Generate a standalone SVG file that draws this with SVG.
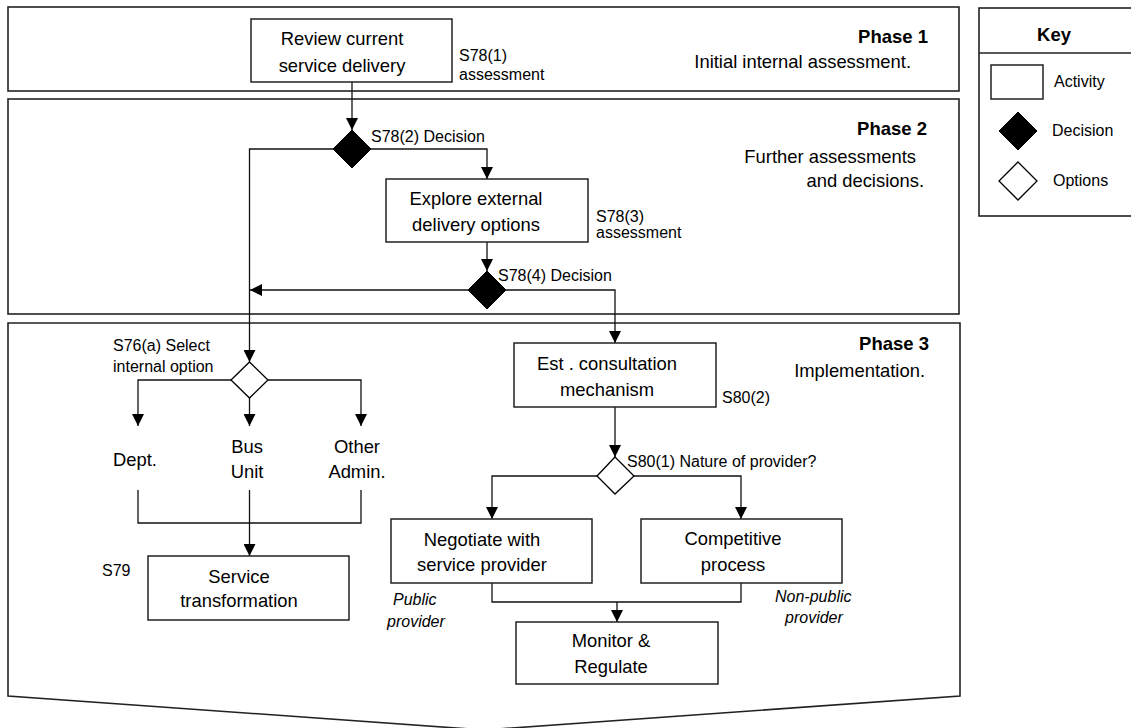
<svg xmlns="http://www.w3.org/2000/svg" width="1131" height="728" viewBox="0 0 1131 728">
<style>
text{font-family:"Liberation Sans",Arial,sans-serif;fill:#000}
.box{fill:#fff;stroke:#222;stroke-width:1.5}
.frame{fill:none;stroke:#222;stroke-width:1.6}
.big{font-size:18.4px}
.lbl{font-size:16px}
.it{font-size:16px;font-style:italic}
.b{font-weight:bold;font-size:18.5px}
.c{text-anchor:middle}
.r{text-anchor:end}
.con{fill:none;stroke:#111;stroke-width:1.3}
.arr{marker-end:url(#ah)}
.dec{fill:#000;stroke:#000;stroke-width:1}
.opt{fill:#fff;stroke:#000;stroke-width:1.3}
</style>
<defs>
<marker id="ah" viewBox="0 0 12 12" refX="12" refY="6" markerWidth="12" markerHeight="12" markerUnits="userSpaceOnUse" orient="auto">
<path d="M0,0 L12,6 L0,12 Z" fill="#000"/>
</marker>
</defs>
<rect width="1131" height="728" fill="#fff"/>

<g id="phase1">
<rect class="frame" x="8" y="7" width="951" height="84"/>
<text class="b r" x="928" y="43">Phase 1</text>
<text class="big r" x="911" y="68">Initial internal assessment.</text>
</g>
<g id="phase2">
<rect class="frame" x="8" y="99" width="951" height="215"/>
<text class="b r" x="927" y="135">Phase 2</text>
<text class="big r" x="916" y="163">Further assessments</text>
<text class="big r" x="924" y="187">and decisions.</text>
</g>
<g id="phase3">
<polygon class="frame" points="8,323 960,323 960,696 484,730 8,696"/>
<text class="b r" x="929" y="350">Phase 3</text>
<text class="big r" x="925" y="377">Implementation.</text>
</g>

<g id="key">
<rect class="frame" x="979" y="8" width="160" height="208"/>
<line x1="979" y1="53" x2="1131" y2="53" stroke="#222" stroke-width="1.5"/>
<text class="b c" x="1054" y="41">Key</text>
<rect class="box" x="991" y="65" width="52" height="34"/>
<text class="lbl" x="1054" y="87">Activity</text>
<polygon class="dec" points="1018,112 1037,131 1018,150 999,131"/>
<text class="lbl" x="1052" y="136">Decision</text>
<polygon class="opt" points="1018,162 1037,181 1018,200 999,181"/>
<text class="lbl" x="1053" y="186">Options</text>
</g>

<g id="connectors">
<path class="con arr" d="M352,82 V130"/>
<path class="con arr" d="M371,149 H487 V179"/>
<path class="con arr" d="M333,149 H249.5 V362"/>
<path class="con arr" d="M487,242 V271"/>
<path class="con arr" d="M468,290 H250"/>
<path class="con arr" d="M506,290 H615 V343"/>
<path class="con arr" d="M231,380 H138 V426"/>
<path class="con arr" d="M249.5,398 V426"/>
<path class="con arr" d="M268,380 H361 V426"/>
<path class="con" d="M138,490 V523 H361 V490"/>
<path class="con arr" d="M249.5,490 V556"/>
<path class="con arr" d="M615,407 V457"/>
<path class="con arr" d="M597,476 H492 V519"/>
<path class="con arr" d="M634,476 H741 V519"/>
<path class="con" d="M492,583 V602 H741 V583"/>
<path class="con arr" d="M617,602 V622"/>
</g>

<g id="review">
<rect class="box" x="251" y="19" width="201" height="63"/>
<text class="big c" x="342" y="45">Review current</text>
<text class="big c" x="342" y="72">service delivery</text>
<text class="lbl" x="459" y="61">S78(1)</text>
<text class="lbl" x="459" y="80">assessment</text>
</g>
<g id="decision1">
<polygon class="dec" points="352,130 371,149 352,168 333,149"/>
<text class="lbl" x="371" y="142">S78(2) Decision</text>
</g>
<g id="explore">
<rect class="box" x="386" y="179" width="202" height="63"/>
<text class="big c" x="476" y="205">Explore external</text>
<text class="big c" x="476" y="231">delivery options</text>
<text class="lbl" x="596" y="222">S78(3)</text>
<text class="lbl" x="596" y="238">assessment</text>
</g>
<g id="decision2">
<polygon class="dec" points="487,271 506,290 487,309 468,290"/>
<text class="lbl" x="498" y="281">S78(4) Decision</text>
</g>
<g id="internal-option">
<polygon class="opt" points="249.5,362 268,380 249.5,398 231,380"/>
<text class="lbl" x="113" y="351">S76(a) Select</text>
<text class="lbl" x="113" y="372">internal option</text>
</g>
<g id="dept">
<text class="big" x="113" y="466">Dept.</text>
</g>
<g id="busunit">
<text class="big c" x="247" y="453">Bus</text>
<text class="big c" x="247" y="478">Unit</text>
</g>
<g id="otheradmin">
<text class="big c" x="357" y="453">Other</text>
<text class="big c" x="357" y="478">Admin.</text>
</g>
<g id="service-transformation">
<rect class="box" x="148" y="556" width="201" height="64"/>
<text class="big c" x="239" y="583">Service</text>
<text class="big c" x="239" y="607">transformation</text>
<text class="lbl" x="102" y="576">S79</text>
</g>
<g id="consultation">
<rect class="box" x="514" y="343" width="202" height="64"/>
<text class="big c" x="607" y="370">Est . consultation</text>
<text class="big c" x="607" y="396">mechanism</text>
<text class="lbl" x="722" y="403">S80(2)</text>
</g>
<g id="nature-option">
<polygon class="opt" points="615,457 634,476 615,494 597,476"/>
<text class="lbl" x="627" y="467">S80(1) Nature of provider?</text>
</g>
<g id="negotiate">
<rect class="box" x="391" y="519" width="201" height="64"/>
<text class="big c" x="482" y="546">Negotiate with</text>
<text class="big c" x="482" y="571">service provider</text>
<text class="it" x="393" y="605">Public</text>
<text class="it" x="387" y="627">provider</text>
</g>
<g id="competitive">
<rect class="box" x="641" y="519" width="201" height="64"/>
<text class="big c" x="733" y="545">Competitive</text>
<text class="big c" x="733" y="571">process</text>
<text class="it" x="775" y="602">Non-public</text>
<text class="it" x="785" y="623">provider</text>
</g>
<g id="monitor">
<rect class="box" x="516" y="622" width="202" height="62"/>
<text class="big c" x="611" y="647">Monitor &amp;</text>
<text class="big c" x="611" y="673">Regulate</text>
</g>
</svg>
